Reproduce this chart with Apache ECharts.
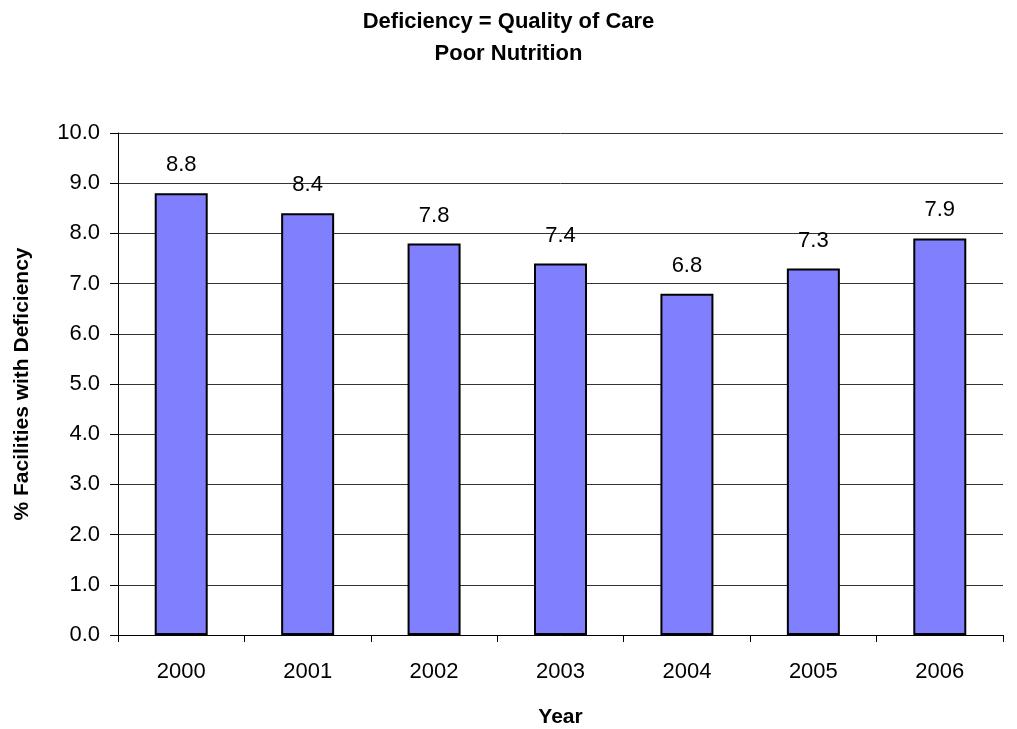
<!DOCTYPE html>
<html>
<head>
<meta charset="utf-8">
<script src="https://cdn.jsdelivr.net/npm/echarts@6/dist/echarts.min.js"></script>
<style>html,body{margin:0;padding:0;background:#fff;}#c{width:1017px;height:729px;}</style>
</head>
<body>
<div id="c"></div>
<script>
var categories = ['2000','2001','2002','2003','2004','2005','2006'];
var values = [8.8, 8.4, 7.8, 7.4, 6.8, 7.3, 7.9];
var titleText = 'Deficiency = Quality of Care\nPoor Nutrition';
var yName = '% Facilities with Deficiency';
var xName = 'Year';

var font = '"Liberation Sans", Arial, sans-serif';
var chart = echarts.init(document.getElementById('c'), null, {renderer:'canvas'});
chart.setOption({
  backgroundColor: '#fff',
  animation: false,
  title: {
    text: titleText, left: 'center', top: 1,
    textStyle: {fontFamily: font, fontSize: 22, fontWeight: 'bold', color: '#000', lineHeight: 32}
  },
  grid: {left: 118, right: 14, top: 133, bottom: 94, containLabel: false, outerBoundsMode: 'none'},
  xAxis: {
    type: 'category', data: categories,
    name: xName, nameLocation: 'middle', nameGap: 72,
    nameTextStyle: {fontFamily: font, fontSize: 21, fontWeight: 'bold', color: '#000'},
    axisLine: {show: true, lineStyle: {color: '#000', width: 1}},
    axisTick: {show: true, length: 7, inside: false, lineStyle: {color: '#000'}},
    axisLabel: {fontFamily: font, fontSize: 22, color: '#000', margin: 26}
  },
  yAxis: {
    type: 'value', min: 0, max: 10, interval: 1,
    name: yName, nameLocation: 'middle', nameGap: 85, nameRotate: 90,
    nameTextStyle: {fontFamily: font, fontSize: 21, fontWeight: 'bold', color: '#000'},
    axisLine: {show: true, lineStyle: {color: '#000', width: 1}},
    axisTick: {show: true, length: 8, lineStyle: {color: '#000'}},
    axisLabel: {fontFamily: font, fontSize: 22, color: '#000', margin: 18,
      formatter: function(v){return v.toFixed(1);}},
    splitLine: {show: true, lineStyle: {color: '#333', width: 1}}
  },
  series: [{
    type: 'bar', data: values, barWidth: 53,
    itemStyle: {color: '#8080FF', borderColor: '#000', borderWidth: 2},
    label: {show: true, position: 'top', distance: 17, fontFamily: font, fontSize: 22, color: '#000',
      formatter: function(p){return p.value.toFixed(1);}}
  }]
});
</script>
</body>
</html>
